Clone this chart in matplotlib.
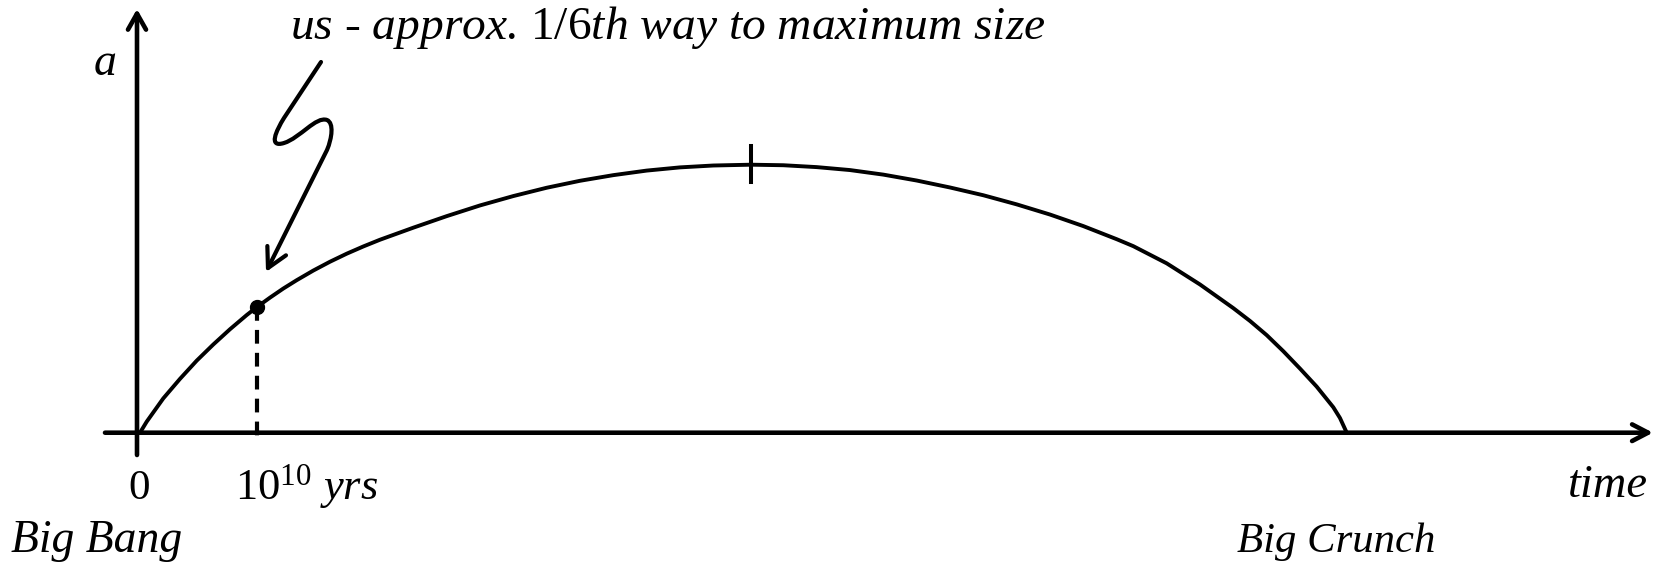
import matplotlib
matplotlib.use("Agg")
import matplotlib.pyplot as plt
from matplotlib.patches import FancyArrowPatch
from matplotlib.path import Path

# ---------------- data ----------------
# time in units of 1e10 yrs, scale factor a relative to its maximum
time_pts = [0.0, 0.057, 0.199, 0.342, 0.485, 0.626, 0.769, 0.912, 1.0,
            1.111, 1.225, 1.339, 1.481, 1.624, 1.767, 1.909, 2.051, 2.336,
            2.621, 2.906, 3.191, 3.476, 3.761, 4.045, 4.330, 4.615, 4.900,
            5.222, 5.499, 5.784, 6.068, 6.353, 6.638, 6.923, 7.208, 7.493,
            7.778, 8.062, 8.348, 8.490, 8.775, 9.060, 9.344, 9.487, 9.630,
            9.772, 9.915, 10.057, 10.199, 10.256, 10.314]
a_pts = [0.0, 0.041, 0.128, 0.201, 0.269, 0.329, 0.386, 0.439, 0.469,
         0.504, 0.538, 0.569, 0.605, 0.638, 0.668, 0.695, 0.720, 0.765,
         0.808, 0.848, 0.883, 0.914, 0.940, 0.961, 0.978, 0.990, 0.997,
         1.0, 0.998, 0.991, 0.980, 0.963, 0.941, 0.915, 0.886, 0.852,
         0.814, 0.771, 0.722, 0.696, 0.632, 0.553, 0.465, 0.417, 0.364,
         0.304, 0.239, 0.172, 0.095, 0.055, 0.0]
us_t, us_a = 1.0, 0.469
peak_t, peak_a = 5.222, 1.0

title_text = r"us - approx. $\mathrm{1/6}$th way to maximum size"
ylabel_text = "a"
xlabel_text = "time"
zero_text = "0"
us_tick_text = r"$\mathrm{10^{10}}$ yrs"
bang_text = "Big Bang"
crunch_text = "Big Crunch"

# ---------------- layout ----------------
W, H = 1663, 564
X0, Y0, SX, SY = 140.0, 432.7, 117.0, 268.0


def P(x, y):
    """reference pixel position -> data coords"""
    return ((x - X0) / SX, (Y0 - y) / SY)


plt.rcParams["mathtext.fontset"] = "custom"
plt.rcParams["mathtext.rm"] = "Liberation Serif"
plt.rcParams["mathtext.it"] = "Liberation Serif:italic"

fig = plt.figure(figsize=(W / 100, H / 100), dpi=100)
ax = fig.add_axes([0, 0, 1, 1])
ax.set_xlim(-X0 / SX, (W - X0) / SX)
ax.set_ylim((Y0 - H) / SY, Y0 / SY)
ax.axis("off")

# axes with arrows
ax.add_patch(FancyArrowPatch(P(105, Y0), P(1653, Y0),
                             arrowstyle="->,head_length=1.15,head_width=0.6",
                             mutation_scale=10, lw=3.3, color="k",
                             shrinkA=0, shrinkB=0))
ax.add_patch(FancyArrowPatch(P(137, 455), P(137, 9),
                             arrowstyle="->,head_length=1.15,head_width=0.65",
                             mutation_scale=10, lw=3.3, color="k",
                             shrinkA=0, shrinkB=0))

# curve
ax.plot(time_pts, a_pts, color="k", lw=2.8, solid_joinstyle="round",
        solid_capstyle="round")

# peak tick
ax.plot([peak_t, peak_t], [P(0, 146)[1], P(0, 182)[1]], color="k", lw=2.9)

# dashed drop line and dot
ax.plot([us_t, us_t], [us_a, P(0, 444)[1]], color="k", lw=3.0,
        linestyle=(0, (3.3, 2.2)))
ax.plot([us_t], [us_a], "o", color="k", ms=10)

# squiggly arrow
sq = [((321, 62), Path.MOVETO),
      ((284, 118), Path.LINETO),
      ((276, 131), Path.CURVE4), ((268, 148), Path.CURVE4), ((284, 143), Path.CURVE4),
      ((300, 138), Path.CURVE4), ((316, 116), Path.CURVE4), ((327, 120), Path.CURVE4),
      ((334, 123), Path.CURVE4), ((332, 138), Path.CURVE4), ((327, 150), Path.CURVE4),
      ((266, 272), Path.LINETO)]
verts = [P(*v) for v, c in sq]
codes = [c for v, c in sq]
ax.add_patch(FancyArrowPatch(path=Path(verts, codes),
                             arrowstyle="->,head_length=1.4,head_width=0.75",
                             mutation_scale=10, lw=3.0, color="k",
                             shrinkA=0, shrinkB=0))

# texts
font = dict(family="Liberation Serif", color="k")
texts = []
t = ax.text(*P(290, 39), title_text, style="italic", fontsize=30,
            ha="left", va="baseline", **font)
texts.append((t, 755))
t = ax.text(*P(235, 499), us_tick_text, style="italic", fontsize=31,
            ha="left", va="baseline", **font)
texts.append((t, 143))
t = ax.text(*P(11, 552), bang_text, style="italic", fontsize=31,
            ha="left", va="baseline", **font)
texts.append((t, 171))
t = ax.text(*P(1237, 552), crunch_text, style="italic", fontsize=31,
            ha="left", va="baseline", **font)
texts.append((t, 198))
t = ax.text(*P(1568, 497), xlabel_text, style="italic", fontsize=31,
            ha="left", va="baseline", **font)
texts.append((t, 80))
ax.text(*P(139, 499), zero_text, fontsize=31, ha="center", va="baseline", **font)
ax.text(*P(105, 75), ylabel_text, style="italic", fontsize=33,
        ha="center", va="baseline", **font)

fig.canvas.draw()
r = fig.canvas.get_renderer()
for t, w in texts:
    bb = t.get_window_extent(r)
    t.set_fontsize(t.get_fontsize() * w / bb.width)

fig.savefig("out.png", dpi=100)
